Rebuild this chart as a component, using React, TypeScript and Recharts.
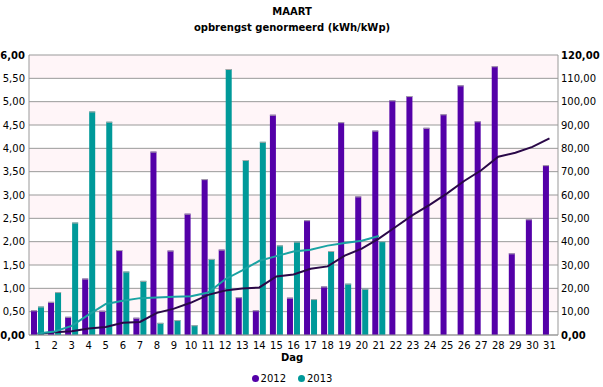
import React from 'react';
import { ComposedChart, Bar, Line, XAxis, YAxis, CartesianGrid, Legend } from 'recharts';

const days = [1, 2, 3, 4, 5, 6, 7, 8, 9, 10, 11, 12, 13, 14, 15, 16, 17, 18, 19, 20, 21, 22, 23, 24, 25, 26, 27, 28, 29, 30, 31];
const yield2012 = [0.53, 0.71, 0.39, 1.21, 0.52, 1.82, 0.37, 3.93, 1.81, 2.6, 3.34, 1.83, 0.81, 0.53, 4.72, 0.8, 2.46, 1.04, 4.56, 2.97, 4.38, 5.03, 5.12, 4.44, 4.73, 5.35, 4.58, 5.76, 1.75, 2.48, 3.64];
const yield2013 = [0.61, 0.92, 2.41, 4.79, 4.57, 1.36, 1.16, 0.26, 0.32, 0.21, 1.63, 5.7, 3.75, 4.14, 1.92, 2.0, 0.77, 1.8, 1.1, 0.99, 2.01];
const cumulative2012 = [0.5, 1.2, 1.6, 2.8, 3.4, 5.2, 5.6, 9.5, 11.3, 13.9, 17.2, 19.1, 19.9, 20.4, 25.1, 25.9, 28.4, 29.4, 34.0, 37.0, 41.3, 46.4, 51.5, 55.9, 60.7, 66.0, 70.6, 76.4, 78.1, 80.6, 84.3];
const cumulative2013 = [0.6, 1.5, 3.9, 8.7, 13.3, 14.7, 15.8, 16.1, 16.4, 16.6, 18.2, 23.9, 27.7, 31.8, 33.8, 35.8, 36.5, 38.3, 39.4, 40.4, 42.4];
const leftTicks = [0, 0.5, 1, 1.5, 2, 2.5, 3, 3.5, 4, 4.5, 5, 5.5, 6];
const rightTicks = [0, 10, 20, 30, 40, 50, 60, 70, 80, 90, 100, 110, 120];
const seriesNames = ['2012', '2013'];

const PURPLE = '#5400a8';
const TEAL = '#009999';
const FONT = '"DejaVu Sans", Verdana, sans-serif';

const data = days.map((d, i) => ({
  day: d,
  y2012: yield2012[i],
  y2013: i < yield2013.length ? yield2013[i] : null,
  c2012: cumulative2012[i],
  c2013: i < cumulative2013.length ? cumulative2013[i] : null,
}));

const fmt = (v: number) => v.toFixed(2).replace('.', ',');

const BarShape = (props: any) => {
  const { x, y, width, height, fill } = props;
  if (!height || height <= 0) return null;
  return (
    <g>
      <rect x={x} y={y} width={width} height={height} fill={fill} />
      <rect x={x} y={y} width={width} height={1} fill="#a8a8a8" />
    </g>
  );
};

const LeftTick = (props: any) => {
  const { x, y, payload, index } = props;
  const bold = index === 0 || index === leftTicks.length - 1;
  return (
    <text x={x - 4} y={y} dy={3.5} textAnchor="end" fontSize={10} fontFamily={FONT} fontWeight={bold ? 'bold' : 'normal'} fill="#000">
      {fmt(payload.value)}
    </text>
  );
};

const RightTick = (props: any) => {
  const { x, y, payload, index } = props;
  const bold = index === 0 || index === rightTicks.length - 1;
  return (
    <text x={x + 3} y={y} dy={3.5} textAnchor="start" fontSize={10} fontFamily={FONT} fontWeight={bold ? 'bold' : 'normal'} fill="#000">
      {fmt(payload.value)}
    </text>
  );
};

const BottomTick = (props: any) => {
  const { x, y, payload } = props;
  return (
    <text x={x} y={y} dy={14} textAnchor="middle" fontSize={10} fontFamily={FONT} fill="#000">
      {payload.value}
    </text>
  );
};

const LegendContent = () => (
  <div style={{ display: 'flex', justifyContent: 'center', alignItems: 'center', fontFamily: FONT, fontSize: 10, paddingLeft: 0 }}>
    {seriesNames.map((n, i) => (
      <div key={n} style={{ display: 'flex', alignItems: 'center', marginRight: i === 0 ? 12 : 0 }}>
        <span style={{ display: 'inline-block', width: 7, height: 7, borderRadius: 4, background: i === 0 ? PURPLE : TEAL, marginRight: 2 }} />
        <span>{n}</span>
      </div>
    ))}
  </div>
);

export default function App() {
  return (
    <div style={{ position: 'absolute', left: 0, top: 0, width: 603, height: 387, background: '#fff' }}>
      <div style={{ position: 'absolute', left: 0, width: 584, top: 6, textAlign: 'center', fontFamily: FONT, fontSize: 10, fontWeight: 'bold' }}>MAART</div>
      <div style={{ position: 'absolute', left: 0, width: 584, top: 22, textAlign: 'center', fontFamily: FONT, fontSize: 10, fontWeight: 'bold' }}>opbrengst genormeerd (kWh/kWp)</div>
      <div style={{ position: 'absolute', left: 0, width: 584, top: 352, textAlign: 'center', fontFamily: FONT, fontSize: 10, fontWeight: 'bold' }}>Dag</div>
      <ComposedChart
        width={603}
        height={387}
        data={data}
        margin={{ top: 55, right: 0, bottom: 22, left: 0 }}
        barGap={1}
        barCategoryGap={2}
      >
        <CartesianGrid
          yAxisId="left"
          vertical={false}
          stroke="#999"
          horizontalFill={['#fff5f8', '#ffffff']}
        />
        <XAxis
          dataKey="day"
          interval={0}
          tickLine={false}
          tickSize={0}
          tickMargin={0}
          height={30}
          axisLine={{ stroke: '#999' }}
          tick={<BottomTick />}
        />
        <YAxis
          yAxisId="left"
          orientation="left"
          width={29}
          domain={[0, 6]}
          ticks={leftTicks}
          interval={0}
          tickLine={false}
          tickSize={0}
          tickMargin={0}
          axisLine={{ stroke: '#999' }}
          tick={<LeftTick />}
        />
        <YAxis
          yAxisId="right"
          orientation="right"
          width={45}
          domain={[0, 120]}
          ticks={rightTicks}
          interval={0}
          tickLine={false}
          tickSize={0}
          tickMargin={0}
          axisLine={{ stroke: '#999' }}
          tick={<RightTick />}
        />
        <Bar yAxisId="left" dataKey="y2012" name="2012" fill={PURPLE} barSize={6} shape={<BarShape />} isAnimationActive={false} />
        <Bar yAxisId="left" dataKey="y2013" name="2013" fill={TEAL} barSize={6} shape={<BarShape />} isAnimationActive={false} />
        <Line yAxisId="right" dataKey="c2012" stroke="#2a0848" strokeWidth={2} dot={false} type="linear" isAnimationActive={false} legendType="none" />
        <Line yAxisId="right" dataKey="c2013" stroke="#1aa3a3" strokeWidth={2} dot={false} type="linear" connectNulls={false} isAnimationActive={false} legendType="none" />
        <Legend
          layout="vertical"
          align="center"
          verticalAlign="middle"
          content={<LegendContent />}
          wrapperStyle={{ position: 'absolute', top: 373, left: 0, width: 584, height: 14 }}
        />
      </ComposedChart>
    </div>
  );
}
